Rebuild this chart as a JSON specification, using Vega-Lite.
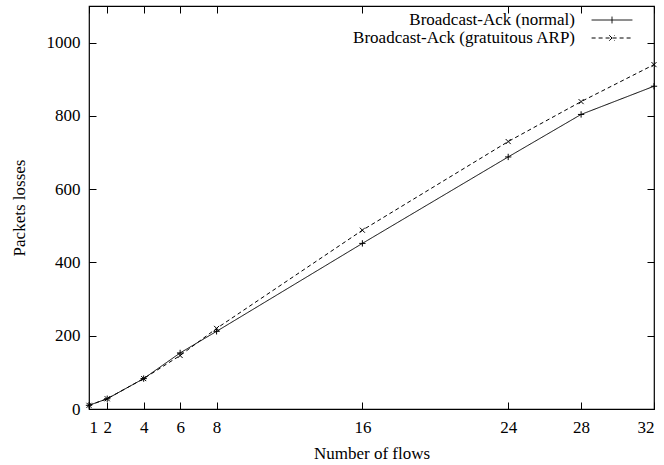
{
  "$schema": "https://vega.github.io/schema/vega-lite/v6.json",
  "width": 565,
  "height": 403,
  "autosize": {"type": "none"},
  "padding": {"left": 89, "top": 6, "right": 10, "bottom": 56},
  "config": {
    "font": "Liberation Serif",
    "view": {"stroke": "black", "strokeWidth": 1.2},
    "axis": {"grid": false, "domain": false, "labelFont": "Liberation Serif", "titleFont": "Liberation Serif", "labelFontSize": 17, "titleFontSize": 17, "titleFontWeight": "normal", "labelColor": "black", "titleColor": "black", "tickColor": "black", "tickSize": -7, "tickWidth": 1, "format": "d"}
  },
  "data": {"values": [
    {"flows": 1, "loss": 10, "series": "Broadcast-Ack (normal)"},
    {"flows": 2, "loss": 28, "series": "Broadcast-Ack (normal)"},
    {"flows": 4, "loss": 83, "series": "Broadcast-Ack (normal)"},
    {"flows": 6, "loss": 153, "series": "Broadcast-Ack (normal)"},
    {"flows": 8, "loss": 212, "series": "Broadcast-Ack (normal)"},
    {"flows": 16, "loss": 452, "series": "Broadcast-Ack (normal)"},
    {"flows": 24, "loss": 688, "series": "Broadcast-Ack (normal)"},
    {"flows": 28, "loss": 804, "series": "Broadcast-Ack (normal)"},
    {"flows": 32, "loss": 881, "series": "Broadcast-Ack (normal)"},
    {"flows": 1, "loss": 10, "series": "Broadcast-Ack (gratuitous ARP)"},
    {"flows": 2, "loss": 28, "series": "Broadcast-Ack (gratuitous ARP)"},
    {"flows": 4, "loss": 83, "series": "Broadcast-Ack (gratuitous ARP)"},
    {"flows": 6, "loss": 146, "series": "Broadcast-Ack (gratuitous ARP)"},
    {"flows": 8, "loss": 220, "series": "Broadcast-Ack (gratuitous ARP)"},
    {"flows": 16, "loss": 488, "series": "Broadcast-Ack (gratuitous ARP)"},
    {"flows": 24, "loss": 730, "series": "Broadcast-Ack (gratuitous ARP)"},
    {"flows": 28, "loss": 839, "series": "Broadcast-Ack (gratuitous ARP)"},
    {"flows": 32, "loss": 940, "series": "Broadcast-Ack (gratuitous ARP)"}
  ]},
  "resolve": {"axis": {"x": "independent", "y": "independent"}, "legend": {"shape": "independent", "strokeDash": "independent"}},
  "layer": [
    {
      "mark": {"type": "line", "color": "black", "strokeWidth": 1},
      "encoding": {
        "x": {"field": "flows", "type": "quantitative", "scale": {"domain": [1, 32], "nice": false, "zero": false}, "axis": {"orient": "bottom", "values": [1, 2, 4, 6, 8, 16, 24, 28, 32], "title": "Number of flows", "labelPadding": 17, "titlePadding": 10}},
        "y": {"field": "loss", "type": "quantitative", "scale": {"domain": [0, 1100], "nice": false}, "axis": {"orient": "left", "values": [0, 200, 400, 600, 800, 1000], "title": "Packets losses", "labelPadding": 16, "titlePadding": 18}},
        "strokeDash": {"field": "series", "type": "nominal", "sort": ["Broadcast-Ack (normal)", "Broadcast-Ack (gratuitous ARP)"], "scale": {"domain": ["Broadcast-Ack (normal)", "Broadcast-Ack (gratuitous ARP)"], "range": [[1, 0], [4, 3]]},
          "legend": {"title": null, "orient": "none", "legendX": 514, "legendY": 5, "symbolType": "stroke", "symbolSize": 289, "symbolStrokeColor": "black", "symbolStrokeWidth": 1, "labelFontSize": 17, "labelFont": "Liberation Serif", "labelColor": "black", "labelAlign": "right", "labelOffset": -46, "labelLimit": 400, "rowPadding": 1,
            "encode": {"symbols": {"update": {"shape": {"signal": "datum.value == 'Broadcast-Ack (normal)' ? 'M-2.4,0L2.4,0M0,-0.4L0,0.4' : 'M-2.4,0L2.4,0M-0.32,-0.32L0.32,0.32M-0.32,0.32L0.32,-0.32'"}}}}}
        }
      }
    },
    {
      "mark": {"type": "point", "filled": false, "color": "black", "strokeWidth": 1, "size": 40, "opacity": 1},
      "encoding": {
        "x": {"field": "flows", "type": "quantitative", "axis": {"orient": "top", "values": [1, 2, 4, 6, 8, 16, 24, 28, 32], "labels": false, "title": null}},
        "y": {"field": "loss", "type": "quantitative", "axis": {"orient": "right", "values": [0, 200, 400, 600, 800, 1000], "labels": false, "title": null}},
        "shape": {"field": "series", "type": "nominal", "scale": {"domain": ["Broadcast-Ack (normal)", "Broadcast-Ack (gratuitous ARP)"], "range": ["M-1,0L1,0M0,-1L0,1", "M-0.8,-0.8L0.8,0.8M-0.8,0.8L0.8,-0.8"]}, "legend": null}
      }
    }
  ]
}
